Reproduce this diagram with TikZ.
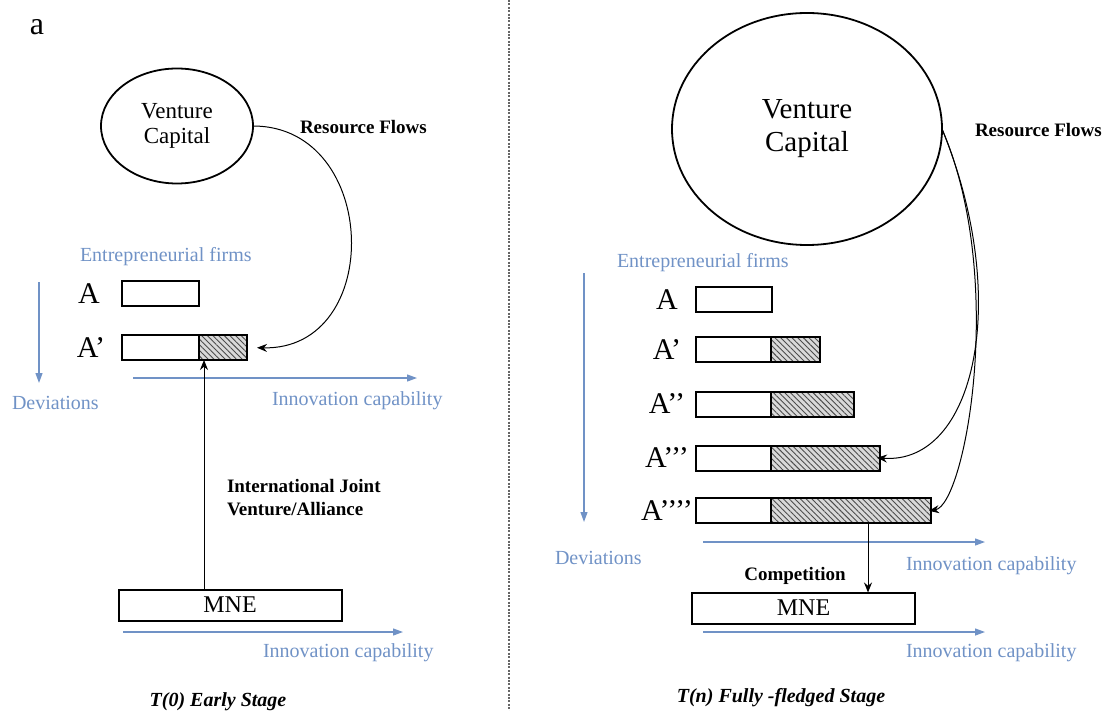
\documentclass[tikz,border=0pt]{standalone}
\usepackage{fontspec}
\setmainfont{Liberation Serif}
\usetikzlibrary{shapes.geometric,patterns.meta,arrows.meta}
\definecolor{axisblue}{RGB}{112,146,198}

\begin{document}
\begin{tikzpicture}[x=0.5pt, y=-0.5pt,
	every node/.style={inner sep=0pt, outer sep=0pt},
	vc/.style={ellipse, draw, line width=0.9pt, align=center},
	firm/.style={draw, line width=1pt, minimum height=12.5pt, fill=white},
	hatched/.style={firm, preaction={fill=gray!30}, pattern={Lines[angle=-45,distance=2pt,line width=0.45pt]}, pattern color=black!70},
	firmlabel/.style={font=\fontsize{15}{15}\selectfont},
	bluetext/.style={text=axisblue, font=\fontsize{10}{12}\selectfont, anchor=west},
	boldtext/.style={font=\fontsize{9.5}{11.5}\selectfont\bfseries},
	stage/.style={font=\fontsize{10}{12}\selectfont\bfseries\itshape},
	mne/.style={draw, line width=1pt, minimum width=111.5pt, minimum height=15.5pt, font=\fontsize{12}{12}\selectfont},
	link/.style={line width=0.5pt, -{Stealth[length=5pt,width=4pt]}},
	capaxis/.style={axisblue, line width=0.6pt, -{Triangle[length=5pt,width=3.5pt]}}]
	\useasboundingbox (0,0) rectangle (1112,711);

	% T(0): early stage
	\node[font=\fontsize{16}{16}\selectfont] (tag) at (37,27) {a};
	\node[vc, minimum width=76pt, minimum height=57.5pt, font=\fontsize{11.5}{12.5}\selectfont] (vcL) at (177,126) {Venture\\Capital};
	\node[boldtext, anchor=west] (rfL) at (300,127) {Resource Flows};
	\node[bluetext] (efL) at (80,257) {Entrepreneurial firms};
	\node[firmlabel] (lL1) at (89,294) {A};
	\node[firm, minimum width=38.5pt, anchor=west] (wL1) at (122,293.5) {};
	\node[firmlabel] (lL2) at (91,348) {A’};
	\node[firm, minimum width=38.5pt, anchor=west] (wL2) at (122,347.5) {};
	\node[hatched, minimum width=24pt, anchor=west] (hL2) at (wL2.east) {};
	\draw[capaxis] (39,282) -- (39,383);
	\node[bluetext] (dvL) at (12,403) {Deviations};
	\draw[capaxis] (133,378) -- (417,378);
	\node[bluetext] (icL1) at (272,401) {Innovation capability};
	\node[boldtext, anchor=west, align=left] (ijv) at (227,498) {International Joint\\Venture/Alliance};
	\node[mne] (mneL) at (230,605) {MNE};
	\draw[capaxis] (123,632) -- (403,632);
	\node[bluetext] (icL2) at (263,653) {Innovation capability};
	\node[stage] (stL) at (218,702) {T(0) Early Stage};
	\draw[link, shorten >=5pt] (vcL.east) .. controls +(127,0) and +(138,3) .. (hL2.east);
	\coordinate (jvL) at ([xshift=2.5pt]hL2.south west);
	\draw[link] (jvL |- mneL.north) -- (jvL);

	\draw[black!60, line width=0.6pt, dash pattern=on 1pt off 0.7pt] (509,0) -- (509,711);

	% T(n): fully-fledged stage
	\node[vc, minimum width=135pt, minimum height=116pt, font=\fontsize{14.5}{16.5}\selectfont] (vcR) at (807,129) {Venture\\Capital};
	\node[boldtext, anchor=west] (rfR) at (975,130) {Resource Flows};
	\node[bluetext] (efR) at (617,263) {Entrepreneurial firms};
	\node[firmlabel] (lR1) at (667,299.5) {A};
	\node[firm, minimum width=38pt, anchor=west] (wR1) at (696,299.5) {};
	\foreach \n/\lab/\y/\w in {2/A’/349.5/24.5, 3/A’’/404/41.5, 4/A’’’/458/54.5, 5/A’’’’/510.5/80} {
		\node[firmlabel] (lR\n) at (667,\y) {\lab};
		\node[firm, minimum width=37.5pt, anchor=west] (wR\n) at (696,\y) {};
		\node[hatched, minimum width=\w pt, anchor=west] (hR\n) at (wR\n.east) {};
	}
	\draw[capaxis] (584,273) -- (584,522);
	\node[bluetext] (dvR) at (555,558) {Deviations};
	\draw[capaxis] (703,542) -- (985,542);
	\node[bluetext] (icR1) at (906,566) {Innovation capability};
	\node[boldtext] (cmp) at (795,576) {Competition};
	\node[mne] (mneR) at (803.5,608) {MNE};
	\coordinate (cpR) at ([xshift=8.5pt]hR5.south);
	\draw[link] (cpR) -- (cpR |- mneR.north);
	\draw[capaxis] (703,632) -- (985,632);
	\node[bluetext] (icR2) at (906,653) {Innovation capability};
	\node[stage] (stR) at (781,698) {T(n) Fully -fledged Stage};
	\draw[link, shorten >=-1.5pt] (vcR.east) .. controls +(70,170) and +(95,7) .. (hR4.east);
	\draw[link, shorten >=-1pt] (vcR.east) .. controls +(65,150) and +(34,-5.5) .. (hR5.east);
\end{tikzpicture}
\end{document}
